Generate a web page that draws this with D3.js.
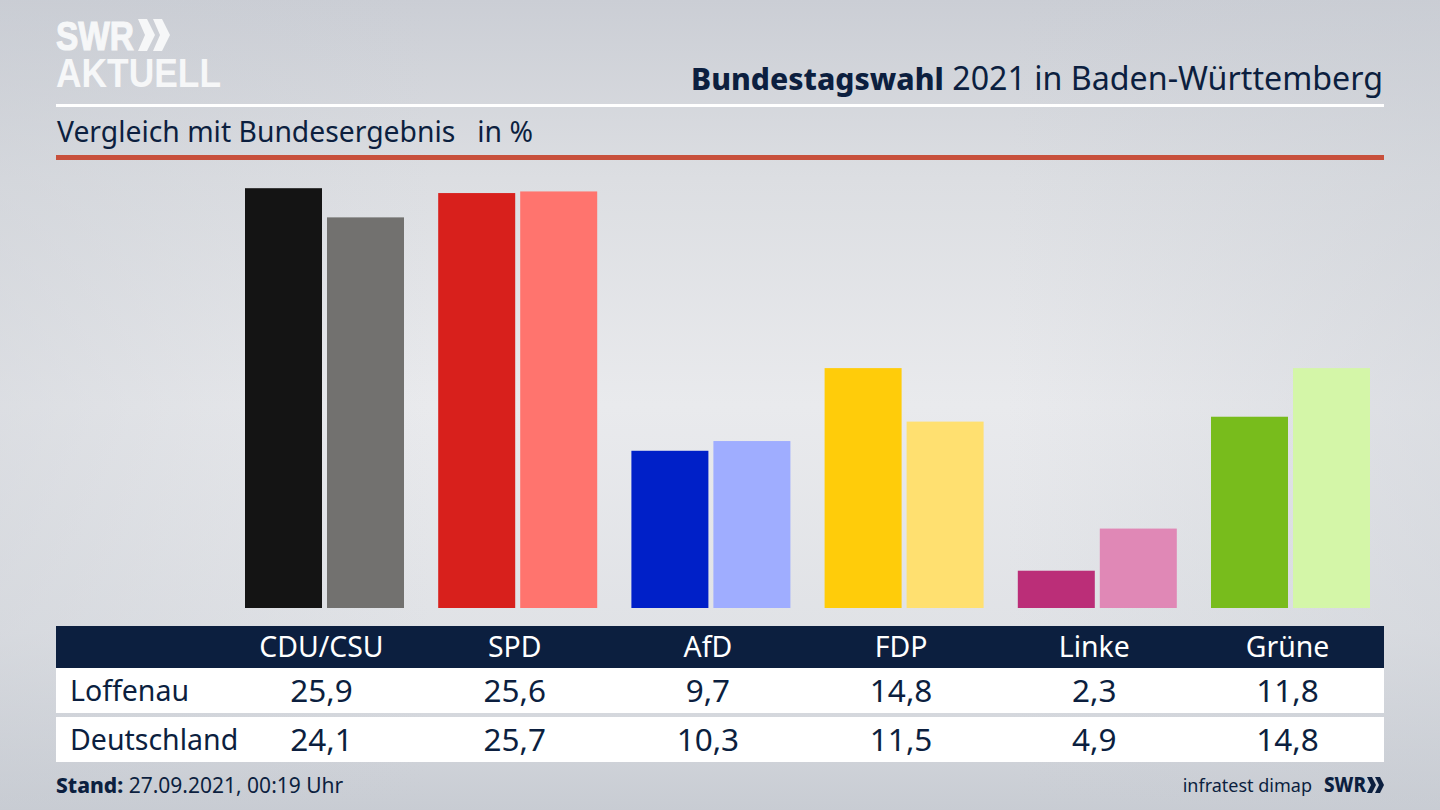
<!DOCTYPE html>
<html>
<head>
<meta charset="utf-8">
<script src="https://cdn.jsdelivr.net/npm/d3@7"></script>
<style>
  html, body { margin: 0; padding: 0; background: #d8dade; }
  text { font-family: "Noto Sans", sans-serif; fill: #0c1f3f; }
</style>
</head>
<body>
<svg id="chart" width="1440" height="810"></svg>
<script>
var parties = ['CDU/CSU', 'SPD', 'AfD', 'FDP', 'Linke', 'Grüne']
var regions = ['Loffenau', 'Deutschland']
var loffenau = [25.9, 25.6, 9.7, 14.8, 2.3, 11.8]
var deutschland = [24.1, 25.7, 10.3, 11.5, 4.9, 14.8]
var localColors = ['#141414', '#d8201c', '#0020c8', '#ffcc0a', '#bb2e78', '#78bc1c']
var nationalColors = ['#72716f', '#ff746e', '#9fadff', '#ffe070', '#e088b6', '#d4f6a8']

var navy = '#0c1f3f'
var svg = d3.select('#chart')
var defs = svg.append('defs')

// background: lighter band through the middle, darker top and bottom
var bg = defs.append('linearGradient').attr('id', 'bg').attr('x1', 0).attr('y1', 0).attr('x2', 0).attr('y2', 1)
bg.append('stop').attr('offset', '0%').attr('stop-color', '#cbced5')
bg.append('stop').attr('offset', '22%').attr('stop-color', '#dcdee2')
bg.append('stop').attr('offset', '50%').attr('stop-color', '#e9eaed')
bg.append('stop').attr('offset', '78%').attr('stop-color', '#e0e2e6')
bg.append('stop').attr('offset', '100%').attr('stop-color', '#c8ccd3')
svg.append('rect').attr('width', 1440).attr('height', 810).attr('fill', 'url(#bg)')

var side = defs.append('linearGradient').attr('id', 'side').attr('x1', 0).attr('y1', 0).attr('x2', 1).attr('y2', 0)
side.append('stop').attr('offset', '0%').attr('stop-color', '#c8ccd3').attr('stop-opacity', 0.4)
side.append('stop').attr('offset', '30%').attr('stop-color', '#c8ccd3').attr('stop-opacity', 0)
side.append('stop').attr('offset', '70%').attr('stop-color', '#c8ccd3').attr('stop-opacity', 0)
side.append('stop').attr('offset', '100%').attr('stop-color', '#c8ccd3').attr('stop-opacity', 0.4)
svg.append('rect').attr('width', 1440).attr('height', 810).attr('fill', 'url(#side)')

// logo
var logo = svg.append('g').style('font-family', '"Liberation Sans", sans-serif')
logo.append('text').attr('x', 56).attr('y', 50).attr('font-size', 41).attr('font-weight', 700)
  .attr('textLength', 78).attr('lengthAdjust', 'spacingAndGlyphs')
  .style('font-family', 'inherit').style('fill', '#f6f7f8').style('stroke', '#f6f7f8').style('stroke-width', 1.2)
  .text('SWR')
logo.append('path').attr('fill', '#f6f7f8')
  .attr('d', 'M138,19 L147,19 L155,35 L147,51 L138,51 L145,35 Z M153,19 L162,19 L170,35 L162,51 L153,51 L160,35 Z')
logo.append('text').attr('x', 56).attr('y', 87).attr('font-size', 41).attr('font-weight', 700)
  .attr('textLength', 165).attr('lengthAdjust', 'spacingAndGlyphs')
  .style('font-family', 'inherit').style('fill', '#f6f7f8').text('AKTUELL')

// header
var title = svg.append('text').attr('x', 1383).attr('y', 90).attr('text-anchor', 'end')
title.append('tspan').attr('font-weight', 800).attr('font-size', 30.1).text('Bundestagswahl')
title.append('tspan').attr('font-size', 32.2).text(' 2021 in Baden-Württemberg')
svg.append('rect').attr('x', 56).attr('y', 104).attr('width', 1328).attr('height', 3).attr('fill', '#fff')
svg.append('text').attr('x', 57).attr('y', 142).attr('font-size', 28.3).attr('xml:space', 'preserve')
  .text('Vergleich mit Bundesergebnis   in %')
svg.append('rect').attr('x', 56).attr('y', 155).attr('width', 1328).attr('height', 5).attr('fill', '#c8503c')

// bars
var x = d3.scaleBand().domain(parties).range([245, 1370]).paddingInner(34.2 / 193.2).paddingOuter(0)
var xInner = d3.scaleBand().domain(regions).range([0, x.bandwidth()]).paddingInner(5 / 82).paddingOuter(0)
var y = d3.scaleLinear().domain([0, 25.9]).range([608, 188.2])

var rows = [
  { name: regions[0], values: loffenau, colors: localColors },
  { name: regions[1], values: deutschland, colors: nationalColors }
]

rows.forEach(function (row) {
  svg.append('g').selectAll('rect')
    .data(row.values)
    .enter()
    .append('rect')
    .attr('x', function (d, i) { return x(parties[i]) + xInner(row.name) })
    .attr('y', function (d) { return y(d) })
    .attr('width', xInner.bandwidth())
    .attr('height', function (d) { return y(0) - y(d) })
    .attr('fill', function (d, i) { return row.colors[i] })
})

// table
function colCenter(i) { return x(parties[i]) + xInner.bandwidth() - 0.5 }

svg.append('rect').attr('x', 56).attr('y', 626).attr('width', 1328).attr('height', 42).attr('fill', navy)
svg.append('g').selectAll('text')
  .data(parties)
  .enter()
  .append('text')
  .attr('x', function (d, i) { return colCenter(i) })
  .attr('y', 657)
  .attr('text-anchor', 'middle')
  .attr('font-size', 28.4)
  .style('fill', '#fff')
  .text(function (d) { return d })

var rowTop = [668, 717]
rows.forEach(function (row, r) {
  svg.append('rect').attr('x', 56).attr('y', rowTop[r]).attr('width', 1328).attr('height', 45).attr('fill', '#fff')
  svg.append('text').attr('x', 70).attr('y', rowTop[r] + 33).attr('font-size', 28.5).text(row.name)
  svg.append('g').selectAll('text')
    .data(row.values)
    .enter()
    .append('text')
    .attr('x', function (d, i) { return colCenter(i) })
    .attr('y', rowTop[r] + 34)
    .attr('text-anchor', 'middle')
    .attr('font-size', 31.5)
    .text(function (d) { return d3.format('.1f')(d).replace('.', ',') })
})

// footer
var stand = svg.append('text').attr('x', 56).attr('y', 793).attr('font-size', 21)
stand.append('tspan').attr('font-weight', 800).text('Stand:')
stand.append('tspan').text(' 27.09.2021, 00:19 Uhr')
svg.append('text').attr('x', 1312).attr('y', 792).attr('text-anchor', 'end').attr('font-size', 18).text('infratest dimap')
svg.append('text').attr('x', 1324).attr('y', 792).attr('font-size', 21).attr('font-weight', 800)
  .attr('textLength', 42).attr('lengthAdjust', 'spacingAndGlyphs').text('SWR')
svg.append('path').attr('fill', navy)
  .attr('d', 'M1367,777 L1372,777 L1376,785 L1372,793 L1367,793 L1371,785 Z M1375,777 L1380,777 L1384,785 L1380,793 L1375,793 L1379,785 Z')
</script>
</body>
</html>
